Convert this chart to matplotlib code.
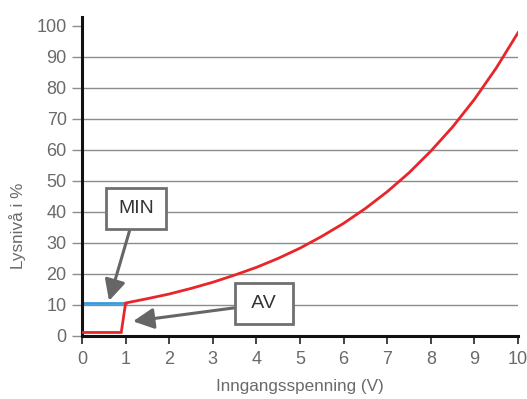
import matplotlib
matplotlib.use("Agg")
import matplotlib.pyplot as plt

plt.rcParams['font.family'] = ['Liberation Sans', 'DejaVu Sans']

# data
off_x = [0.0, 0.9, 1.0]
off_y = [1.0, 1.0, 10.5]
min_x = [0.0, 1.0]
min_y = [10.5, 10.5]
curve_x = [1.0, 1.5, 2.0, 2.5, 3.0, 3.5, 4.0, 4.5, 5.0, 5.5, 6.0, 6.5, 7.0, 7.5, 8.0, 8.5, 9.0, 9.5, 10.0]
curve_y = [10.5, 11.9, 13.4, 15.2, 17.2, 19.5, 22.0, 24.9, 28.2, 32.0, 36.2, 41.0, 46.4, 52.5, 59.5, 67.3, 76.2, 86.3, 97.7]
x_ticks = list(range(0, 11))
y_ticks = list(range(0, 101, 10))
grid_levels = list(range(10, 100, 10))

fig = plt.figure(figsize=(5.27, 3.99), dpi=100)
ax = fig.add_axes([0.1556, 0.159, 0.8274, 0.798])

txt = '#6a6a6a'

ax.hlines(grid_levels, 0, 10, color='#8c8c8c', lw=1.0, zorder=1)
ax.plot(off_x + curve_x[1:], off_y + curve_y[1:], color='#e8262a', lw=2.0, zorder=3,
        solid_joinstyle='miter')
ax.plot(min_x, min_y, color='#3a9ad9', lw=2.0, zorder=2)

ax.set_xlim(0, 10)
ax.set_ylim(0, 102.7)
ax.set_xticks(x_ticks)
ax.set_yticks(y_ticks)
for s in ['top', 'right']:
    ax.spines[s].set_visible(False)
ax.spines['left'].set_linewidth(2.2)
ax.spines['bottom'].set_linewidth(2.2)
ax.spines['left'].set_color('#111111')
ax.spines['bottom'].set_color('#111111')
ax.tick_params(axis='x', direction='out', length=6, width=1.2, color='#222222',
               labelsize=13, labelcolor=txt, pad=5)
ax.tick_params(axis='y', direction='out', length=7, width=1.0, color='#8c8c8c',
               labelsize=13, labelcolor=txt, pad=4)

ax.set_xlabel('Inngangsspenning (V)', fontsize=12.3, color=txt, labelpad=8)
ax.set_ylabel('Lysnivå i %', fontsize=12.3, color=txt)
ax.yaxis.set_label_coords(-0.128, 0.345)

box = dict(boxstyle='square,pad=0.62', fc='white', ec='#707070', lw=2.0)
arrow = dict(arrowstyle='-|>,head_length=0.9,head_width=0.45', color='#666666', lw=2.2,
             shrinkA=0, shrinkB=0)
ax.annotate('MIN', xy=(0.62, 11.2), xytext=(1.24, 41), fontsize=14, color='#333333',
            ha='center', va='center', bbox=box, arrowprops=arrow, zorder=5)
ax.annotate(' AV ', xy=(1.17, 4.6), xytext=(4.17, 10.2), fontsize=14, color='#333333',
            ha='center', va='center', bbox=box, arrowprops=arrow, zorder=5)

fig.savefig('out.png', dpi=100)
